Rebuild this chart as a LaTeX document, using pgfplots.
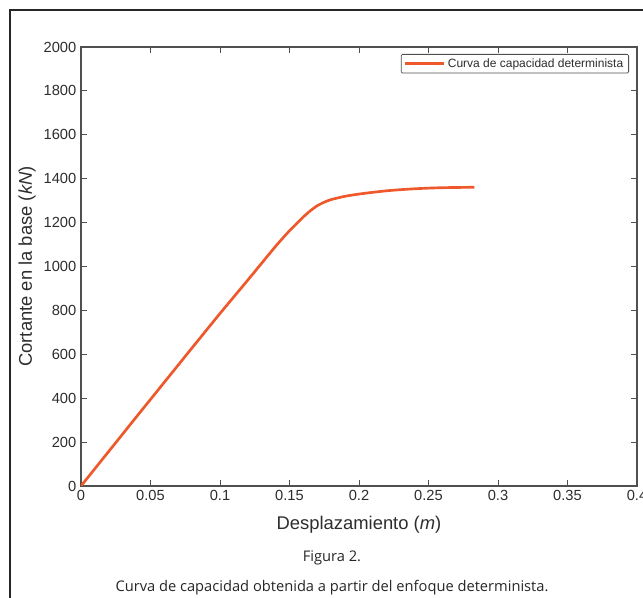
\documentclass[border=0pt]{standalone}
\usepackage{pgfplots}
\pgfplotsset{compat=1.18}
\usepackage{fontspec}
\setmainfont{Liberation Sans}
\newfontfamily\capfont{Open Sans}

\definecolor{curve}{RGB}{238,88,42}
\definecolor{axisgray}{RGB}{80,80,80}
\definecolor{labelgray}{RGB}{45,45,45}

% Capacity curve: base shear (kN) versus roof displacement (m)
\pgfplotstableread{
x      y
0      0
0.01   79
0.02   158
0.04   316
0.06   473
0.08   630
0.10   786
0.12   938
0.14   1092
0.15   1163
0.16   1226
0.165  1254
0.17   1277
0.175  1293
0.18   1305
0.19   1320
0.20   1330
0.21   1338
0.22   1345
0.23   1350
0.24   1354
0.25   1357
0.26   1359
0.27   1360
0.283  1361
}\capacidad

\begin{document}
\begin{tikzpicture}[x=0.75pt,y=0.75pt]
\useasboundingbox (-81,-112) rectangle (562,486);
\clip (-81,-112) rectangle (562,486);
\draw[line width=0.9pt, black!85] (-71,476) rectangle (573,-140);
\begin{axis}[
  at={(0,0)}, anchor=south west,
  scale only axis,
  width=417pt, height=329.25pt,
  xmin=0, xmax=0.4, ymin=0, ymax=2000,
  xtick={0,0.05,0.1,0.15,0.2,0.25,0.3,0.35,0.4},
  xticklabels={0,0.05,0.1,0.15,0.2,0.25,0.3,0.35,0.4},
  ytick={0,200,...,2000},
  scaled ticks=false,
  tick align=inside,
  major tick length=4.5pt,
  tick style={axisgray, line width=0.6pt},
  axis line style={axisgray, line width=0.9pt},
  ticklabel style={font=\fontsize{11}{13}\selectfont, text=labelgray},
  /pgf/number format/assume math mode=true,
  /pgf/number format/1000 sep={},
  xlabel={Desplazamiento (\textit{m})},
  ylabel={Cortante en la base (\textit{kN})},
  label style={font=\fontsize{13.8}{16}\selectfont, text=labelgray},
  xlabel style={at={(axis description cs:0.5,-0.1)}, anchor=base},
  ylabel style={at={(axis description cs:-0.097,0.5)}, anchor=center, rotate=0},
  legend style={
    at={(1,1)}, anchor=north east, xshift=-6pt, yshift=-5.25pt,
    font=\fontsize{9}{10}\selectfont, text=labelgray,
    draw=axisgray, line width=0.6pt, rounded corners=1pt,
    inner xsep=2pt, inner ysep=1pt,
  },
  legend image code/.code={\draw[#1] (0pt,0pt) -- (29pt,0pt);},
  legend cell align=left,
]
\addplot[curve, line width=2pt, smooth, tension=0.3] table[x=x, y=y] {\capacidad};
\addlegendentry{Curva de capacidad determinista}
\end{axis}
\node[anchor=base, font=\capfont\fontsize{11}{13}\selectfont, text=black!85] at (251,-76) {Figura 2.};
\node[anchor=base, font=\capfont\fontsize{11}{13}\selectfont, text=black!85] at (251,-106) {Curva de capacidad obtenida a partir del enfoque determinista.};
\end{tikzpicture}
\end{document}
